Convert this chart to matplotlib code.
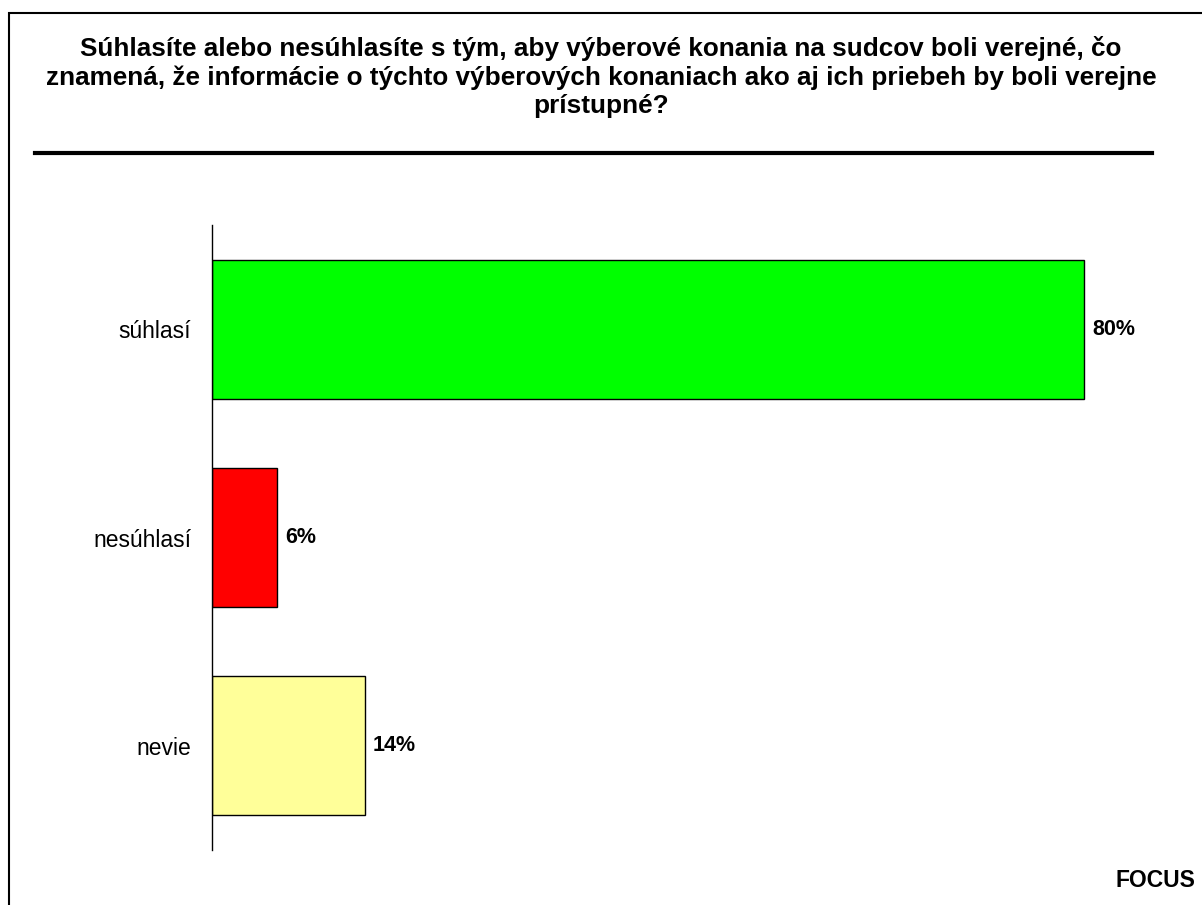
import matplotlib.pyplot as plt
from matplotlib.patches import Rectangle
from matplotlib.lines import Line2D

plt.rcParams['font.family'] = ['Liberation Sans', 'DejaVu Sans']

# data
categories = ['súhlasí', 'nesúhlasí', 'nevie']
values = [80, 6, 14]
colors = ['#00FF00', '#FF0000', '#FFFF99']
title = ('Súhlasíte alebo nesúhlasíte s tým, aby výberové konania na sudcov boli verejné, čo\n'
         'znamená, že informácie o týchto výberových konaniach ako aj ich priebeh by boli verejne\n'
         'prístupné?')

W, H = 1202, 905
fig = plt.figure(figsize=(W / 100, H / 100), dpi=100)

# outer frame
fig.patches.append(Rectangle((9 / W, -0.05), 1.1, 1 - 13 / H + 0.05, transform=fig.transFigure,
                             fill=False, edgecolor='black', linewidth=1.5))

fig.text(0.5, 1 - 36 / H, title, ha='center', va='top', fontsize=18.8, fontweight='bold',
         linespacing=1.23)
fig.lines.append(Line2D([35 / W, 1152 / W], [1 - 153 / H, 1 - 153 / H], transform=fig.transFigure,
                        color='black', linewidth=3))

# axes: left at 212 px, 1% = 10.9 px, rows from y=225 to 850
ax_left, ax_right = 212, 1190
ax = fig.add_axes([ax_left / W, 1 - 850 / H, (ax_right - ax_left) / W, (850 - 225) / H])
ax.set_xlim(0, (ax_right - ax_left) / 10.9)
ax.set_ylim(2.5, -0.5)
ypos = range(len(categories))
ax.barh(ypos, values, height=0.667, color=colors, edgecolor='black', linewidth=1)
for y, v in zip(ypos, values):
    ax.annotate(f'{v}%', (v, y), xytext=(8, 0), textcoords='offset pixels',
                ha='left', va='center', fontsize=15.5, fontweight='bold')

ax.set_yticks(list(ypos))
ax.set_yticklabels(categories, fontsize=16.5)
ax.tick_params(axis='y', length=0, pad=15)
ax.set_xticks([])
for s in ['top', 'right', 'bottom']:
    ax.spines[s].set_visible(False)
ax.spines['left'].set_linewidth(1)

fig.text(1195 / W, 1 - 880 / H, 'FOCUS', ha='right', va='center', fontsize=16.5, fontweight='bold')

fig.savefig('out.png', dpi=100)
